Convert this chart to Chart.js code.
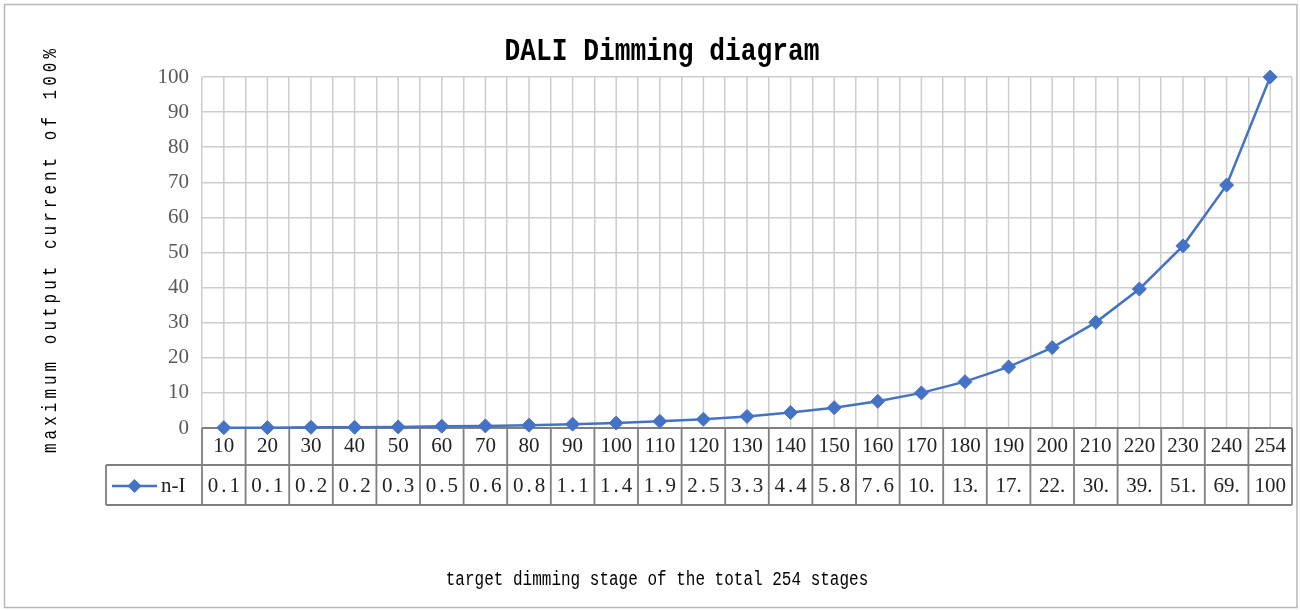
<!DOCTYPE html>
<html>
<head>
<meta charset="utf-8">
<title>DALI Dimming diagram</title>
<script src="https://cdn.jsdelivr.net/npm/chart.js@4.4.1/dist/chart.umd.min.js"></script>
<style>
  html, body { margin: 0; padding: 0; background: #fff; }
  #wrap { width: 1300px; height: 610px; }
</style>
</head>
<body>
<div id="wrap"><canvas id="dali" width="1300" height="610"></canvas></div>
<script>
// dimming stage (x categories) and output current in % of max
const stages = ['10','20','30','40','50','60','70','80','90','100','110','120','130',
                '140','150','160','170','180','190','200','210','220','230','240','254'];
const currentPct = [0.1, 0.1, 0.2, 0.2, 0.3, 0.5, 0.6, 0.8, 1.1, 1.4, 1.9, 2.5, 3.3,
                    4.4, 5.8, 7.6, 10.0, 13.2, 17.4, 22.9, 30.1, 39.6, 51.9, 69.2, 100];
const seriesName = 'n-I';
const yMin = 0, yMax = 100, yStep = 10;

const chartTitle = 'DALI Dimming diagram';
const xTitle = 'target dimming stage of the total 254 stages';
const yTitle = 'maximum output current of 100%';

const blue = '#4472C4';
const gridColor = '#cdcdcd';
const tableColor = '#7f7f7f';
const serif = '"Liberation Serif", "Times New Roman", serif';
const mono = '"Liberation Mono", "Courier New", monospace';

// the data table cell is too narrow in the original, so 10.0 shows as "10."
const cellText = v => v >= 100 ? String(v) : v >= 10 ? Math.floor(v) + '.' : v.toFixed(1);

const rowH1 = 37, rowH2 = 40, legendLeft = 106;

function narrowText(ctx, text, x, y, font, sx, spacing, rot) {
  ctx.save();
  ctx.translate(x, y);
  if (rot) ctx.rotate(rot);
  ctx.scale(sx, 1);
  ctx.font = font;
  ctx.letterSpacing = spacing || '0px';
  ctx.fillStyle = '#000';
  ctx.textAlign = 'center';
  ctx.textBaseline = 'middle';
  ctx.fillText(text, 0, 0);
  ctx.restore();
}

const dataTable = {
  id: 'dataTable',
  beforeDatasetsDraw(chart) {
    const {ctx, chartArea: a, scales: {x}} = chart;
    const w = x.getPixelForValue(1) - x.getPixelForValue(0);
    ctx.save();
    // extra grid lines through each category centre
    ctx.strokeStyle = gridColor;
    ctx.lineWidth = 1.5;
    ctx.beginPath();
    stages.forEach((s, i) => {
      const px = x.getPixelForValue(i);
      ctx.moveTo(px, a.top);
      ctx.lineTo(px, a.bottom);
    });
    ctx.stroke();

    // table frame
    const y0 = a.bottom, y1 = y0 + rowH1, y2 = y1 + rowH2;
    ctx.strokeStyle = tableColor;
    ctx.lineWidth = 1.8;
    ctx.beginPath();
    ctx.moveTo(a.left, y0); ctx.lineTo(a.right, y0);
    ctx.moveTo(legendLeft, y1); ctx.lineTo(a.right, y1);
    ctx.moveTo(legendLeft, y2); ctx.lineTo(a.right, y2);
    ctx.moveTo(legendLeft, y1); ctx.lineTo(legendLeft, y2);
    for (let i = 0; i <= stages.length; i++) {
      const px = x.getPixelForValue(0) - w / 2 + i * w;
      ctx.moveTo(px, y0); ctx.lineTo(px, y2);
    }
    ctx.stroke();

    // value row
    ctx.font = '21px ' + serif;
    ctx.fillStyle = '#222';
    ctx.textAlign = 'center';
    ctx.textBaseline = 'middle';
    const ym = (y1 + y2) / 2 + 1;
    currentPct.forEach((v, i) => {
      const t = cellText(v);
      const wide = /\.\d/.test(t);
      ctx.letterSpacing = wide ? '3px' : '0px';
      ctx.fillText(t, x.getPixelForValue(i) + (wide ? 1.5 : 0), ym);
    });
    ctx.letterSpacing = '0px';

    // legend key in the first cell
    const ds = chart.data.datasets[0];
    ctx.strokeStyle = ds.borderColor;
    ctx.lineWidth = 2.5;
    ctx.beginPath();
    ctx.moveTo(112, ym); ctx.lineTo(157, ym);
    ctx.stroke();
    ctx.fillStyle = ds.backgroundColor;
    ctx.beginPath();
    ctx.moveTo(134.5, ym - 7); ctx.lineTo(141.5, ym); ctx.lineTo(134.5, ym + 7); ctx.lineTo(127.5, ym);
    ctx.closePath();
    ctx.fill();
    ctx.fillStyle = '#222';
    ctx.textAlign = 'left';
    ctx.fillText(ds.label, 161, ym);
    ctx.restore();
  },
  afterDraw(chart) {
    const {ctx} = chart;
    narrowText(ctx, chartTitle, 662, 52, 'bold 32px ' + mono, 0.82);
    narrowText(ctx, xTitle, 657, 580, '20px ' + mono, 0.8);
    narrowText(ctx, yTitle, 51, 249, '20px ' + mono, 0.8, '5px', -Math.PI / 2);
    // outer frame
    ctx.save();
    ctx.strokeStyle = '#b8b8b8';
    ctx.lineWidth = 1.5;
    ctx.strokeRect(4.5, 4.5, 1292.5, 603);
    ctx.restore();
  }
};

new Chart(document.getElementById('dali'), {
  type: 'line',
  data: {
    labels: stages,
    datasets: [{
      label: seriesName,
      data: currentPct,
      borderColor: blue,
      backgroundColor: blue,
      borderWidth: 2.5,
      pointStyle: 'rectRot',
      pointRadius: 7,
      pointBorderWidth: 1,
      pointBackgroundColor: blue,
      tension: 0,
      clip: false
    }]
  },
  options: {
    responsive: false,
    animation: false,
    layout: { padding: { top: 77, right: 3, bottom: 0, left: 0 } },
    plugins: {
      legend: { display: false },
      title: { display: false },
      tooltip: { enabled: false }
    },
    scales: {
      x: {
        type: 'category',
        offset: true,
        grid: { offset: true, color: gridColor, lineWidth: 1.5, drawTicks: false },
        border: { display: false },
        ticks: {
          font: { family: serif, size: 21 },
          color: '#222',
          padding: 6,
          maxRotation: 0,
          autoSkip: false
        },
        afterFit(scale) { scale.height = 182; }
      },
      y: {
        min: yMin,
        max: yMax,
        grid: { color: gridColor, lineWidth: 1.5, drawTicks: false },
        border: { display: false },
        ticks: {
          stepSize: yStep,
          font: { family: serif, size: 21 },
          color: '#595959',
          padding: 13
        },
        afterFit(scale) { scale.width = 202; }
      }
    }
  },
  plugins: [dataTable]
});
</script>
</body>
</html>
